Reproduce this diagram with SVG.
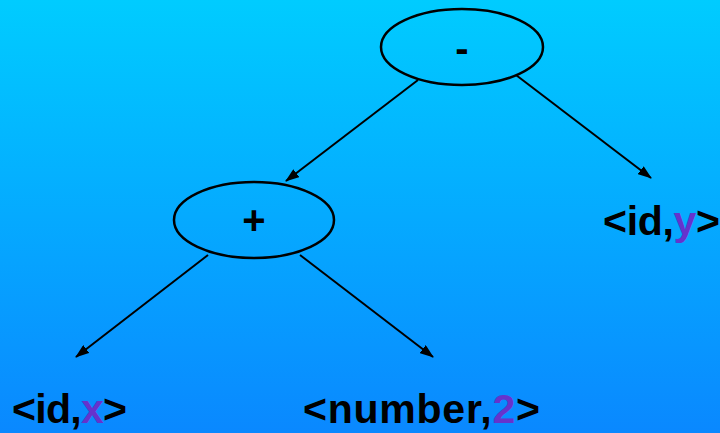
<svg xmlns="http://www.w3.org/2000/svg" width="720" height="433" viewBox="0 0 720 433">
<defs>
<linearGradient id="bg" x1="0" y1="0" x2="0" y2="1">
<stop offset="0" stop-color="#00CCFF"/>
<stop offset="1" stop-color="#0A88FF"/>
</linearGradient>
<marker id="ah" markerWidth="14" markerHeight="10" refX="13" refY="5" orient="auto" markerUnits="userSpaceOnUse">
<path d="M0,0 L14,5 L0,10 z" fill="#000"/>
</marker>
</defs>
<style>
.node{fill:none;stroke:#000;stroke-width:2.5}
.op{font-family:"Liberation Sans",Arial,sans-serif;font-weight:bold;font-size:40px;fill:#000;text-anchor:middle}
.leaf{font-family:"Liberation Sans",Arial,sans-serif;font-weight:bold;font-size:41px;fill:#000}
.v{fill:#6633CC}
.edge{stroke:#000;stroke-width:2;fill:none;marker-end:url(#ah)}
</style>
<rect width="720" height="433" fill="url(#bg)"/>
<g id="connectors">
<line class="edge" x1="418" y1="80" x2="286" y2="181"/>
<line class="edge" x1="516" y1="75" x2="651" y2="178"/>
<line class="edge" x1="208" y1="255" x2="76" y2="357"/>
<line class="edge" x1="300" y1="255" x2="433" y2="357"/>
</g>
<g id="minus">
<ellipse class="node" cx="462" cy="47" rx="81" ry="38"/>
<text class="op" x="462" y="62">-</text>
</g>
<g id="plus">
<ellipse class="node" cx="254" cy="220" rx="80" ry="38"/>
<text class="op" x="254" y="234">+</text>
</g>
<g id="idy">
<text class="leaf" x="603" y="235" textLength="117">&lt;id,<tspan class="v">y</tspan>&gt;</text>
</g>
<g id="idx">
<text class="leaf" x="12" y="423" textLength="115">&lt;id,<tspan class="v">x</tspan>&gt;</text>
</g>
<g id="num2">
<text class="leaf" x="303" y="423" textLength="237">&lt;number,<tspan class="v">2</tspan>&gt;</text>
</g>
</svg>
